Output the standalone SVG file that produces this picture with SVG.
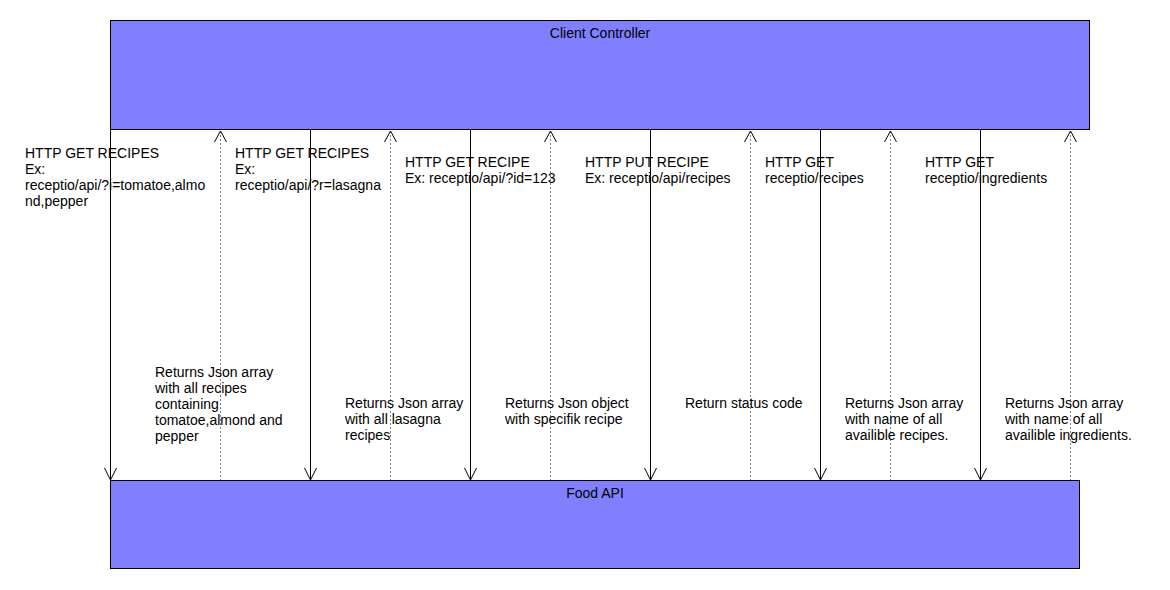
<svg xmlns="http://www.w3.org/2000/svg" width="1170" height="590" viewBox="0 0 1170 590">
<style>
.box{fill:#8080ff;stroke:#000;stroke-width:1}
text{font-family:"Liberation Sans",Arial,sans-serif;font-size:14px;fill:#000}
.t{text-anchor:middle}
.req{stroke:#000;stroke-width:1;fill:none}
.res{stroke:#808080;stroke-width:1;stroke-dasharray:2,2;fill:none}
.ah{stroke:#000;stroke-width:1;fill:none}
</style>
<rect width="1170" height="590" fill="#fff"/>
<g id="client-controller">
<rect class="box" x="110.5" y="20.5" width="979" height="109"/>
<text class="t" x="600" y="38">Client Controller</text>
</g>
<g id="food-api">
<rect class="box" x="110.5" y="480.5" width="969" height="88"/>
<text class="t" x="595" y="498">Food API</text>
</g>
<g id="connectors">
<line class="req" x1="110.5" y1="130" x2="110.5" y2="480"/>
<polyline class="ah" points="104.5,468 110.5,480 116.5,468"/>
<line class="req" x1="310.5" y1="130" x2="310.5" y2="480"/>
<polyline class="ah" points="304.5,468 310.5,480 316.5,468"/>
<line class="req" x1="470.5" y1="130" x2="470.5" y2="480"/>
<polyline class="ah" points="464.5,468 470.5,480 476.5,468"/>
<line class="req" x1="650.5" y1="130" x2="650.5" y2="480"/>
<polyline class="ah" points="644.5,468 650.5,480 656.5,468"/>
<line class="req" x1="820.5" y1="130" x2="820.5" y2="480"/>
<polyline class="ah" points="814.5,468 820.5,480 826.5,468"/>
<line class="req" x1="980.5" y1="130" x2="980.5" y2="480"/>
<polyline class="ah" points="974.5,468 980.5,480 986.5,468"/>

<line class="res" x1="220.5" y1="131" x2="220.5" y2="480"/>
<polyline class="ah" points="214.5,142 220.5,131 226.5,142"/>
<line class="res" x1="390.5" y1="131" x2="390.5" y2="480"/>
<polyline class="ah" points="384.5,142 390.5,131 396.5,142"/>
<line class="res" x1="550.5" y1="131" x2="550.5" y2="480"/>
<polyline class="ah" points="544.5,142 550.5,131 556.5,142"/>
<line class="res" x1="750.5" y1="131" x2="750.5" y2="480"/>
<polyline class="ah" points="744.5,142 750.5,131 756.5,142"/>
<line class="res" x1="890.5" y1="131" x2="890.5" y2="480"/>
<polyline class="ah" points="884.5,142 890.5,131 896.5,142"/>
<line class="res" x1="1070.5" y1="131" x2="1070.5" y2="480"/>
<polyline class="ah" points="1064.5,142 1070.5,131 1076.5,142"/>
</g>
<g id="labels">
<text x="25" y="158">HTTP GET RECIPES<tspan x="25" dy="16">Ex:</tspan><tspan x="25" dy="16">receptio/api/?i=tomatoe,almo</tspan><tspan x="25" dy="16">nd,pepper</tspan></text>
<text x="235" y="158">HTTP GET RECIPES<tspan x="235" dy="16">Ex:</tspan><tspan x="235" dy="16">receptio/api/?r=lasagna</tspan></text>
<text x="405" y="167">HTTP GET RECIPE<tspan x="405" dy="16">Ex: receptio/api/?id=123</tspan></text>
<text x="585" y="167">HTTP PUT RECIPE<tspan x="585" dy="16">Ex: receptio/api/recipes</tspan></text>
<text x="765" y="167">HTTP GET<tspan x="765" dy="16">receptio/recipes</tspan></text>
<text x="925" y="167">HTTP GET<tspan x="925" dy="16">receptio/ingredients</tspan></text>

<text x="155" y="377">Returns Json array<tspan x="155" dy="16">with all recipes</tspan><tspan x="155" dy="16">containing</tspan><tspan x="155" dy="16">tomatoe,almond and</tspan><tspan x="155" dy="16">pepper</tspan></text>
<text x="345" y="408">Returns Json array<tspan x="345" dy="16">with all lasagna</tspan><tspan x="345" dy="16">recipes</tspan></text>
<text x="505" y="408">Returns Json object<tspan x="505" dy="16">with specifik recipe</tspan></text>
<text x="685" y="408">Return status code</text>
<text x="845" y="408">Returns Json array<tspan x="845" dy="16">with name of all</tspan><tspan x="845" dy="16">availible recipes.</tspan></text>
<text x="1005" y="408">Returns Json array<tspan x="1005" dy="16">with name of all</tspan><tspan x="1005" dy="16">availible ingredients.</tspan></text>
</g>
</svg>
